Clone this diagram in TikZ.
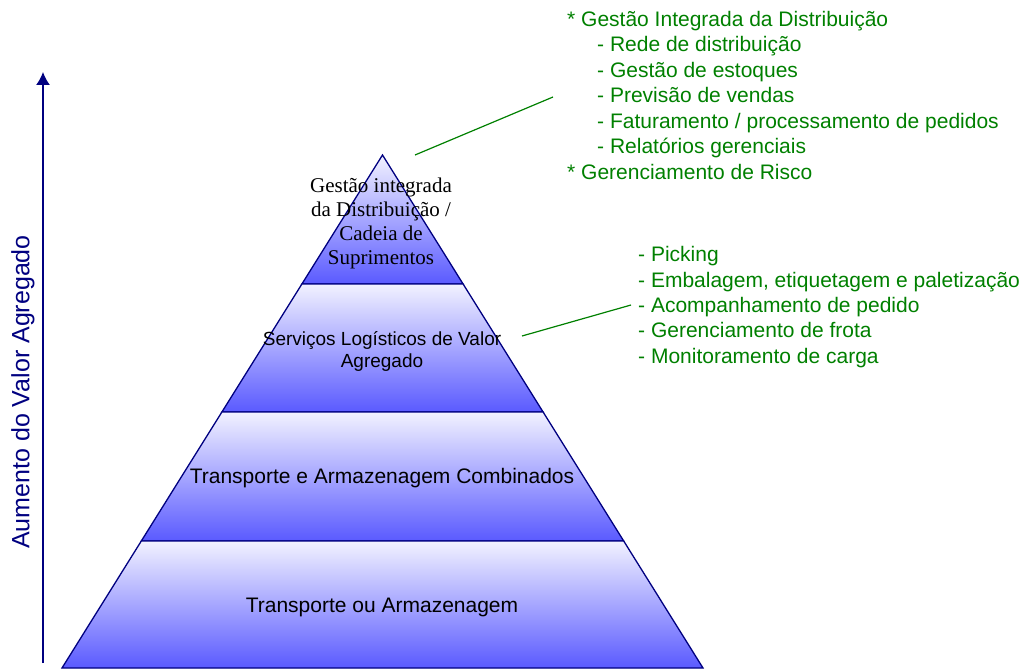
\documentclass[tikz,border=0pt]{standalone}
\usepackage{fontspec}
\setmainfont{Liberation Sans}
\newfontfamily\serfont{Liberation Serif}
\usetikzlibrary{arrows.meta}
\definecolor{navy}{RGB}{0,0,128}
\definecolor{grn}{RGB}{0,128,0}
\definecolor{ltop}{RGB}{242,242,255}
\definecolor{lbot}{RGB}{90,90,255}
\begin{document}
\begin{tikzpicture}[x=1pt,y=-1pt,
  layer/.style={draw=navy, line width=1.3pt, top color=ltop, bottom color=lbot},
  lbl/.style={font=\fontsize{21}{25}\selectfont, text=black},
  gtxt/.style={font=\fontsize{21}{25}\selectfont, text=grn, anchor=base west, inner sep=0pt},
  callout/.style={draw=grn, line width=1.2pt}]
\useasboundingbox (0,0) rectangle (1024,671);
% pyramid layers
\path[layer] (382.5,155) -- (463.1,284) -- (301.9,284) -- cycle;
\path[layer] (301.9,284) -- (463.1,284) -- (543.1,412) -- (221.9,412) -- cycle;
\path[layer] (221.9,412) -- (543.1,412) -- (623.7,541) -- (141.3,541) -- cycle;
\path[layer] (141.3,541) -- (623.7,541) -- (703,668) -- (62,668) -- cycle;
% layer labels
\node[align=center, font=\serfont\fontsize{21}{24}\selectfont] (top) at (381,223)
  {Gestão integrada\\da Distribuição /\\Cadeia de\\Suprimentos};
\node[align=center, font=\fontsize{19}{22}\selectfont] (vas) at (382,351)
  {Serviços Logísticos de Valor\\Agregado};
\node[lbl] (tac) at (382,478) {Transporte e Armazenagem Combinados};
\node[lbl] (toa) at (382,607) {Transporte ou Armazenagem};
% value axis
\coordinate (ab) at (43,663);
\coordinate (at) at (43,72);
\draw[navy, line width=1.5pt, -{Latex[length=13pt,width=14pt]}] (ab) -- (at);
\node[rotate=90, text=navy, font=\fontsize{25}{30}\selectfont] (axl) at (23,392) {Aumento do Valor Agregado};
% green text block 1
\node[gtxt] (g1) at (567,26.5) {* Gestão Integrada da Distribuição};
\node[gtxt] (g2) at (597,52) {- Rede de distribuição};
\node[gtxt] (g3) at (597,77.5) {- Gestão de estoques};
\node[gtxt] (g4) at (597,103) {- Previsão de vendas};
\node[gtxt] (g5) at (597,128.5) {- Faturamento / processamento de pedidos};
\node[gtxt] (g6) at (597,154) {- Relatórios gerenciais};
\node[gtxt] (g7) at (567,179.5) {* Gerenciamento de Risco};
% green text block 2
\node[gtxt] (h1) at (638,261.5) {- Picking};
\node[gtxt] (h2) at (638,287) {- Embalagem, etiquetagem e paletização};
\node[gtxt] (h3) at (638,312) {- Acompanhamento de pedido};
\node[gtxt] (h4) at (638,337.5) {- Gerenciamento de frota};
\node[gtxt] (h5) at (638,363) {- Monitoramento de carga};
% callout lines
\coordinate (c1a) at (415,155);
\coordinate (c1b) at (553,97);
\draw[callout] (c1a) -- (c1b);
\coordinate (c2a) at (522,336);
\coordinate (c2b) at (631,305);
\draw[callout] (c2a) -- (c2b);
\end{tikzpicture}
\end{document}
